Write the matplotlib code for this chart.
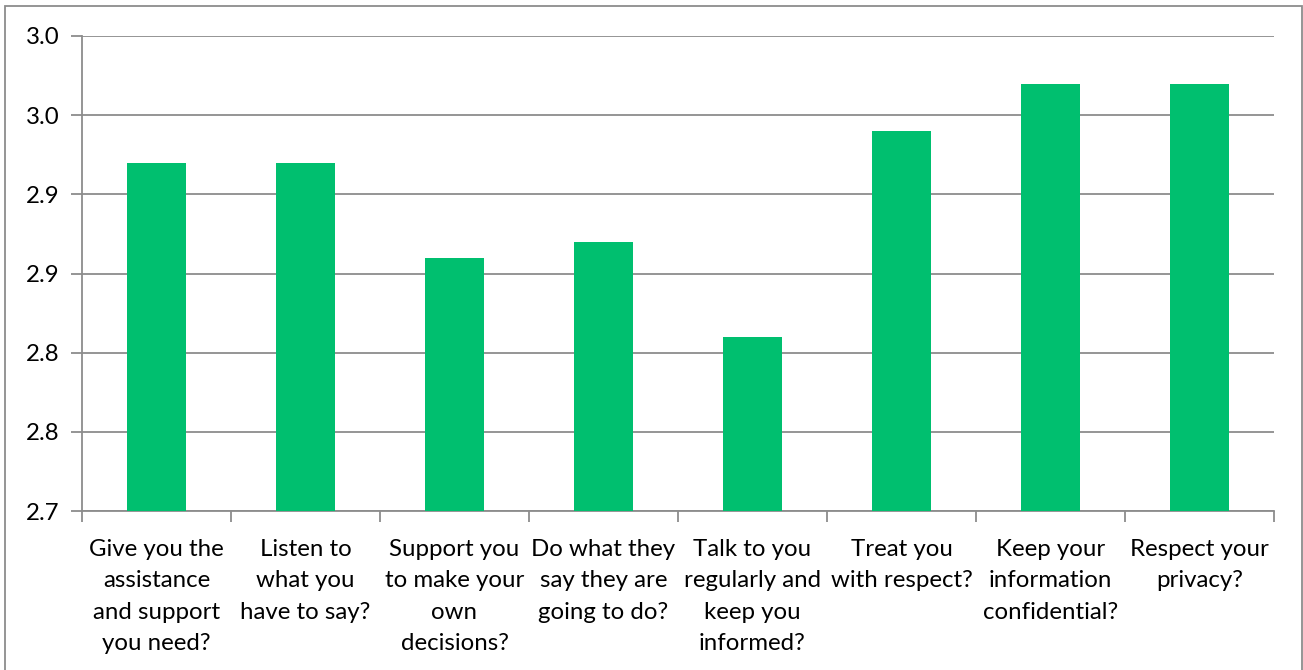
import matplotlib.pyplot as plt
from matplotlib.ticker import FormatStrFormatter, FixedLocator
from matplotlib.patches import Rectangle

categories = [
    "Give you the\nassistance\nand support\nyou need?",
    "Listen to\nwhat you\nhave to say?",
    "Support you\nto make your\nown\ndecisions?",
    "Do what they\nsay they are\ngoing to do?",
    "Talk to you\nregularly and\nkeep you\ninformed?",
    "Treat you\nwith respect?",
    "Keep your\ninformation\nconfidential?",
    "Respect your\nprivacy?",
]
values = [2.92, 2.92, 2.86, 2.87, 2.81, 2.94, 2.97, 2.97]
yticks = [2.70, 2.75, 2.80, 2.85, 2.90, 2.95, 3.00]

plt.rcParams['font.family'] = ['Lato', 'DejaVu Sans']

fig = plt.figure(figsize=(13.03, 6.70), dpi=100)
ax = fig.add_axes([82 / 1303, 1 - 511 / 670, (1274 - 82) / 1303, (511 - 36) / 670])

grid_col = '#8c8c8c'
x = range(len(categories))
ax.bar(x, values, width=0.4, color='#00bf6f', zorder=3)

ax.set_xlim(-0.5, len(categories) - 0.5)
ax.set_ylim(2.70, 3.00)
ax.yaxis.set_major_locator(FixedLocator(yticks))
ax.yaxis.set_major_formatter(FormatStrFormatter('%.1f'))
ax.grid(axis='y', color=grid_col, linewidth=1.3, zorder=0)

ax.set_xticks([i + 0.5 for i in range(-1, len(categories))])
ax.set_xticklabels([])
ax.set_xticks(list(x), minor=True)
ax.set_xticklabels(categories, minor=True, fontsize=17.3, linespacing=1.62, va='top')
ax.tick_params(axis='x', which='minor', length=0, pad=20)
ax.tick_params(axis='x', which='major', length=8, color=grid_col, width=1.3)
ax.tick_params(axis='y', length=8, color=grid_col, width=1.3, labelsize=17.3, pad=8)

for s in ['top', 'right']:
    ax.spines[s].set_visible(False)
for s in ['left', 'bottom']:
    ax.spines[s].set_color(grid_col)
    ax.spines[s].set_linewidth(1.3)

fig.patches.append(Rectangle((5 / 1303, -0.01), 1297 / 1303, 1 - 6 / 670 + 0.01,
                             transform=fig.transFigure, fill=False,
                             edgecolor='#8c8c8c', linewidth=1.3))

fig.savefig('out.png', dpi=100)
